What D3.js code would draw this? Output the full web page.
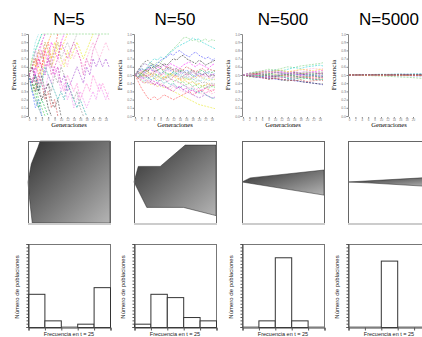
<!DOCTYPE html>
<html>
<head>
<meta charset="utf-8">
<script src="https://cdn.jsdelivr.net/npm/d3@7"></script>
<style>
  body { margin: 0; background: #fff; }
  svg { display: block; font-family: "Liberation Sans", Arial, sans-serif; }
</style>
</head>
<body>
<div id="chart"></div>
<script>
// Titles of the four panels (population size)
const titles = ["N=5", "N=50", "N=500", "N=5000"];

// Generations for the dense (N=5, N=50) and sparse (N=500, N=5000) series
const gens = d3.range(0, 26);
const sparseGens = [0, 2, 4, 6, 8, 10, 12, 14, 16, 18, 20, 22, 24, 25];

const lineColors = ["#66cc66", "#00cccc", "#3333ff", "#000000", "#ff00ff", "#ff3333", "#e6e600",
  "#ff99cc", "#33cc33", "#888888", "#009999", "#ff9900", "#9933cc", "#99ee66", "#ff66cc",
  "#cc00cc", "#3366ff", "#ffcc00", "#333333", "#cc3333", "#66dddd", "#aaaaaa", "#00aa44",
  "#ee77ee", "#dd33aa"];

// Allele frequency per generation, N=5 (series stop when fixed)
const freqN5 = [
  [.5,.7,.8,.9,1,1,1,1,1,1,1,1,1,1,1,1,1,1,1,1,1,1,1,1,1,1],
  [.5,.6,.8,.9,1],
  [.5,.3,.2,.1,0],
  [.5,.4,.5,.3,.2,.3,.1,0],
  [.5,.6,.5,.7,.6,.8,.7,.9,.8,.7,.9,1],
  [.5,.4,.6,.7,.6,.8,.9,.7,.8,1],
  [.5,.6,.7,.6,.5,.7,.8,.7,.9,.8,.7,.6,.8,.7,.8,.9,.8,.7,.8,.9,1],
  [.5,.6,.4,.5,.6,.5,.7,.6,.8,.7,.6,.7,.6,.8,.7,.8,.7,.6,.7,.8,.9,.8,.7,.8,.9,.8],
  [.5,.3,.4,.2,.1,0],
  [.5,.4,.3,.4,.2,.3,.4,.3,.5,.4,.6,.5,.4,.3,.2,.3,.1,0],
  [.5,.4,.5,.3,.4,.6,.5,.4,.3,.2,.3,.2,.4,.3,.2,.1,.2,.1,0],
  [.5,.6,.7,.5,.6,.8,.9,1],
  [.5,.6,.5,.4,.6,.5,.7,.6,.5,.6,.4,.5,.3,.4,.5,.6,.5,.4,.6,.5,.7,.6,.7,.6,.7,.6],
  [.5,.4,.2,.1,0],
  [.5,.6,.8,.7,.9,.8,.6,.7,.5,.6,.4,.3,.5,.4,.3,.4,.2,.3,.4,.3,.5,.4,.3,.4,.3,.2],
  [.5,.4,.6,.8,.9,1],
  [.5,.3,.1,.2,0],
  [.5,.7,.6,.8,.7,.9,.8,.6,.7,.9,.8,.9,1],
  [.5,.6,.4,.3,.5,.3,.4,.2,.1,.2,0],
  [.5,.4,.3,.5,.4,.2,.3,.1,.2,0],
  [.5,.7,.9,1],
  [.5,.6,.7,.8,.7,.9,.8,.6,.8,.9,.7,.8,.9,.8,.9,1],
  [.5,.4,.3,.1,.2,.1,0],
  [.5,.4,.6,.5,.4,.3,.5,.4,.6,.5,.3,.4,.2,.3,.1,.2,.3,.2,.1,.2,.3,.2,.4,.3,.2,.3],
  [.5,.6,.7,.6,.8,.6,.7,.5,.6,.7,.9,.8,.7,.8,.9,.8,.7,.5,.7,.6,.8,.9,1]
];

// Allele frequency per generation, N=50
const freqN50 = [
  [.50,.54,.58,.55,.60,.64,.62,.66,.65,.70,.74,.78,.82,.86,.90,.95,.96,.94,.92,.93,.90,.92,.94,.91,.93,.92],
  [.50,.55,.60,.64,.62,.66,.70,.68,.72,.70,.74,.78,.80,.84,.86,.88,.90,.92,.95,.93,.94,.90,.88,.86,.84,.82],
  [.50,.52,.48,.54,.58,.62,.60,.64,.68,.70,.72,.76,.74,.78,.80,.76,.74,.72,.76,.78,.74,.72,.70,.72,.68,.70],
  [.50,.46,.52,.56,.54,.60,.58,.62,.60,.64,.62,.66,.70,.68,.72,.74,.70,.68,.66,.64,.68,.66,.62,.64,.66,.68],
  [.50,.54,.56,.52,.58,.56,.54,.60,.58,.62,.60,.64,.62,.60,.58,.62,.64,.66,.62,.60,.64,.62,.60,.58,.62,.64],
  [.50,.42,.34,.28,.22,.20,.24,.20,.22,.26,.24,.22,.20,.22,.24,.26,.28,.30,.26,.28,.32,.30,.34,.32,.30,.33],
  [.50,.46,.44,.40,.42,.38,.40,.36,.38,.34,.36,.32,.30,.28,.26,.24,.22,.20,.18,.16,.14,.13,.12,.11,.10,.09],
  [.50,.48,.44,.46,.42,.40,.38,.36,.40,.38,.34,.32,.36,.34,.32,.30,.28,.30,.32,.28,.30,.26,.28,.30,.27,.29],
  [.50,.52,.48,.50,.46,.48,.52,.50,.46,.44,.48,.46,.42,.44,.40,.42,.38,.40,.36,.38,.34,.36,.38,.34,.36,.35],
  [.50,.48,.52,.50,.54,.52,.48,.50,.52,.48,.46,.50,.48,.52,.50,.46,.48,.44,.46,.42,.44,.40,.42,.38,.40,.39],
  [.50,.52,.50,.46,.48,.44,.46,.42,.44,.40,.42,.38,.40,.36,.34,.38,.36,.32,.34,.30,.28,.30,.26,.24,.22,.21],
  [.50,.54,.52,.56,.54,.50,.52,.48,.50,.46,.48,.52,.50,.48,.44,.46,.42,.40,.42,.38,.40,.36,.38,.40,.37,.38],
  [.50,.46,.48,.44,.40,.42,.38,.40,.36,.38,.34,.36,.38,.34,.36,.32,.30,.28,.26,.24,.22,.24,.26,.24,.22,.23],
  [.50,.54,.50,.52,.56,.58,.54,.56,.52,.54,.50,.48,.52,.50,.46,.48,.44,.46,.42,.40,.38,.36,.34,.36,.38,.36],
  [.50,.56,.60,.64,.62,.58,.56,.54,.50,.52,.48,.46,.44,.42,.40,.38,.36,.34,.36,.32,.34,.30,.28,.30,.32,.31],
  [.50,.48,.46,.50,.48,.44,.42,.40,.38,.36,.34,.32,.30,.34,.36,.32,.34,.30,.32,.28,.30,.32,.34,.36,.38,.37],
  [.50,.54,.58,.56,.60,.58,.54,.56,.52,.54,.58,.56,.52,.50,.54,.52,.56,.54,.50,.48,.52,.50,.54,.52,.50,.52],
  [.50,.46,.50,.48,.52,.50,.46,.44,.48,.46,.50,.52,.48,.46,.44,.42,.46,.44,.48,.46,.50,.48,.44,.46,.44,.45],
  [.50,.56,.62,.66,.68,.64,.62,.60,.64,.62,.58,.60,.56,.58,.54,.56,.52,.54,.56,.52,.54,.50,.52,.48,.50,.49],
  [.50,.52,.54,.50,.48,.52,.54,.56,.58,.56,.60,.58,.56,.54,.58,.56,.60,.58,.56,.54,.56,.58,.55,.57,.56,.55],
  [.50,.48,.44,.42,.46,.44,.48,.50,.46,.48,.52,.50,.54,.52,.48,.50,.46,.48,.44,.46,.42,.44,.46,.43,.45,.44],
  [.50,.52,.56,.54,.50,.52,.48,.46,.50,.54,.56,.58,.54,.56,.52,.50,.48,.52,.54,.50,.48,.46,.48,.50,.47,.48],
  [.50,.48,.52,.56,.58,.62,.60,.56,.58,.54,.52,.50,.54,.52,.56,.54,.50,.52,.48,.50,.54,.56,.52,.54,.53,.55],
  [.50,.52,.48,.46,.50,.48,.52,.54,.50,.52,.56,.54,.58,.56,.52,.54,.50,.48,.46,.50,.52,.48,.50,.47,.46,.48],
  [.50,.46,.42,.40,.44,.42,.38,.40,.44,.46,.42,.44,.48,.50,.46,.48,.52,.50,.54,.52,.48,.50,.52,.48,.51,.50]
];

// Allele frequency at sparseGens, N=500
const freqN500 = [
  [.50,.52,.54,.55,.57,.56,.58,.60,.59,.61,.62,.63,.64,.65],
  [.50,.51,.53,.52,.54,.56,.55,.57,.59,.58,.60,.61,.62,.61],
  [.50,.49,.47,.48,.46,.45,.44,.45,.43,.42,.41,.40,.39,.38],
  [.50,.48,.49,.47,.45,.46,.44,.43,.44,.42,.41,.40,.39,.39],
  [.50,.52,.51,.54,.55,.53,.54,.52,.53,.51,.52,.54,.55,.56],
  [.50,.49,.51,.50,.52,.51,.49,.50,.48,.49,.47,.48,.49,.48],
  [.50,.48,.47,.49,.48,.50,.49,.51,.50,.52,.51,.50,.52,.51],
  [.50,.51,.52,.50,.51,.53,.52,.54,.55,.56,.57,.58,.57,.58],
  [.50,.51,.49,.50,.48,.47,.48,.46,.47,.45,.46,.44,.45,.44],
  [.50,.52,.53,.55,.54,.56,.55,.53,.54,.52,.53,.51,.52,.53],
  [.50,.49,.50,.48,.47,.49,.48,.46,.45,.47,.46,.45,.44,.45],
  [.50,.51,.50,.52,.51,.49,.50,.48,.49,.47,.48,.46,.47,.46],
  [.50,.49,.48,.46,.47,.48,.50,.49,.51,.50,.52,.53,.51,.52],
  [.50,.51,.53,.52,.50,.51,.49,.50,.52,.51,.53,.52,.54,.53],
  [.50,.48,.49,.47,.48,.46,.47,.49,.48,.50,.49,.47,.48,.47],
  [.50,.52,.51,.53,.52,.54,.53,.51,.52,.50,.51,.49,.50,.49],
  [.50,.49,.47,.48,.50,.49,.51,.52,.50,.51,.49,.50,.48,.49],
  [.50,.51,.52,.54,.53,.55,.56,.54,.55,.57,.56,.55,.57,.56],
  [.50,.50,.52,.51,.49,.48,.50,.51,.53,.52,.50,.51,.52,.51],
  [.50,.49,.48,.47,.45,.46,.45,.44,.43,.44,.42,.43,.44,.43],
  [.50,.51,.49,.51,.52,.50,.48,.47,.49,.48,.50,.51,.49,.50],
  [.50,.52,.54,.53,.55,.54,.52,.53,.51,.53,.54,.52,.53,.54],
  [.50,.48,.50,.49,.51,.53,.52,.50,.49,.47,.48,.49,.47,.48],
  [.50,.51,.50,.52,.54,.53,.51,.52,.54,.53,.55,.54,.52,.53],
  [.50,.49,.51,.50,.48,.49,.47,.48,.46,.48,.47,.45,.46,.47]
];

// Allele frequency at sparseGens, N=5000
const freqN5000 = [
  [.500,.498,.495,.493,.490,.488,.484,.480,.476,.472,.468,.462,.455,.452],
  [.500,.503,.505,.504,.507,.509,.508,.511,.513,.512,.515,.517,.516,.518],
  [.500,.498,.497,.499,.496,.494,.495,.493,.491,.492,.490,.488,.489,.487],
  [.500,.502,.501,.503,.502,.504,.503,.505,.506,.504,.505,.507,.506,.508],
  [.500,.499,.501,.500,.498,.499,.497,.498,.496,.497,.495,.496,.494,.495],
  [.500,.501,.503,.502,.500,.501,.503,.504,.502,.503,.501,.502,.504,.503],
  [.500,.499,.497,.498,.500,.499,.497,.495,.496,.494,.493,.494,.492,.491],
  [.500,.502,.503,.505,.504,.506,.508,.507,.509,.510,.508,.509,.511,.510],
  [.500,.501,.499,.500,.502,.501,.499,.500,.498,.499,.497,.498,.499,.498],
  [.500,.498,.499,.497,.498,.496,.497,.499,.498,.500,.499,.497,.498,.496],
  [.500,.502,.501,.500,.502,.503,.501,.502,.500,.501,.503,.502,.500,.501],
  [.500,.499,.500,.502,.501,.503,.502,.500,.501,.499,.500,.498,.499,.500],
  [.500,.501,.502,.501,.503,.502,.504,.505,.503,.504,.502,.503,.501,.502],
  [.500,.499,.498,.496,.497,.495,.494,.496,.495,.493,.494,.492,.493,.494],
  [.500,.500,.502,.503,.501,.500,.502,.503,.505,.504,.502,.503,.504,.502],
  [.500,.501,.500,.499,.501,.500,.498,.497,.499,.498,.496,.497,.498,.497],
  [.500,.499,.501,.502,.500,.502,.501,.499,.500,.502,.501,.503,.502,.501],
  [.500,.501,.499,.498,.500,.499,.501,.500,.498,.497,.499,.498,.500,.499],
  [.500,.502,.504,.503,.505,.506,.504,.505,.507,.506,.504,.505,.503,.504],
  [.500,.499,.498,.500,.499,.497,.498,.496,.497,.495,.496,.494,.495,.493]
];

// Min/max envelope of the frequencies: [generation, frequency] vertices
const envUpper = [
  [[0,.5],[1,.72],[2,.82],[3,.92],[3.7,1],[25,1]],
  [[0,.5],[1.3,.69],[8,.69],[15.6,.95],[25,.95]],
  [[0,.5],[2.5,.55],[25,.646]],
  [[0,.5],[25,.556]]
];
const envLower = [
  [[0,.5],[.4,.32],[1.3,0],[25,0]],
  [[0,.5],[3.9,.19],[15.1,.19],[24,.1],[25,.09]],
  [[0,.5],[25,.34]],
  [[0,.5],[6,.49],[25,.445]]
];

// Histogram of frequency at t = 25 (5 bins of width 0.2)
const histEdges = [0, .2, .4, .6, .8, 1];
const histCounts = [
  [10, 2, 0, 1, 12],
  [1, 10, 9, 3, 2],
  [0, 2, 21, 2, 0],
  [0, 0, 20, 0, 0]
];

const freqData = [freqN5, freqN50, freqN500, freqN5000];
const freqGens = [gens, gens, sparseGens, sparseGens];

const width = 422, height = 337;
const panelLeft = [28, 134, 242, 348];
const pw = 82;

const svg = d3.select("#chart").append("svg")
  .attr("width", width)
  .attr("height", height);

// Gradient for the envelope polygons
const grad = svg.append("defs").append("linearGradient")
  .attr("id", "envGrad")
  .attr("x1", 0).attr("y1", 0).attr("x2", 1).attr("y2", 1);
grad.append("stop").attr("offset", "0%").attr("stop-color", "#303030");
grad.append("stop").attr("offset", "100%").attr("stop-color", "#b4b4b4");

titles.forEach((title, i) => {
  let x0 = panelLeft[i];

  svg.append("text")
    .attr("x", x0 + pw / 2)
    .attr("y", 25)
    .attr("text-anchor", "middle")
    .style("font-size", "17px")
    .text(title);

  // ---- row 1: frequency trajectories ----
  let x = d3.scaleLinear().domain([0, 25]).range([x0 + 1, x0 + pw - 1]);
  let y = d3.scaleLinear().domain([0, 1]).range([116, 34]);

  let line = d3.line()
    .x((d, j) => x(freqGens[i][j]))
    .y(d => y(d));

  svg.append("g")
    .attr("opacity", 0.85)
    .selectAll("path")
    .data(freqData[i])
    .enter().append("path")
    .attr("d", d => line(d))
    .attr("fill", "none")
    .attr("stroke", (d, j) => lineColors[j % lineColors.length])
    .attr("stroke-width", 0.6)
    .attr("stroke-dasharray", "2,1.2");

  let yAxis = svg.append("g")
    .attr("transform", "translate(" + x0 + ",0)")
    .call(d3.axisLeft(y).tickValues(d3.range(0, 1.01, 0.1)).tickSize(1.5).tickFormat(d3.format(".1f")));
  yAxis.select(".domain").attr("stroke", "#888");
  yAxis.selectAll(".tick line").attr("stroke", "#888");
  yAxis.selectAll("text").style("font-size", "3.5px").attr("fill", "#777").attr("x", -2);

  // only keep generation ticks that fit inside the window
  let genTicks = x.ticks(10).filter(t => x(t) < width - 4);
  let xAxis = svg.append("g")
    .attr("transform", "translate(0,117)")
    .call(d3.axisBottom(x).tickValues(genTicks).tickSize(1.5));
  xAxis.select(".domain").remove();
  xAxis.selectAll(".tick line").attr("stroke", "#888");
  xAxis.selectAll("text").style("font-size", "3px").attr("fill", "#777").attr("y", 2);

  svg.append("text")
    .attr("transform", "translate(" + (x0 - 12) + ",75) rotate(-90)")
    .attr("text-anchor", "middle")
    .style("font-family", "'Liberation Serif', serif")
    .style("font-size", "7px")
    .text("Frecuencia");

  svg.append("text")
    .attr("x", x0 + pw / 2)
    .attr("y", 127)
    .attr("text-anchor", "middle")
    .style("font-family", "'Liberation Serif', serif")
    .style("font-size", "6.5px")
    .text("Generaciones");

  // ---- row 2: envelope of frequencies ----
  let ex = d3.scaleLinear().domain([0, 25]).range([x0, x0 + pw]);
  let ey = d3.scaleLinear().domain([0, 1]).range([223, 141]);
  let env = envUpper[i].concat(envLower[i].slice().reverse());

  svg.append("path")
    .attr("d", d3.line().x(d => ex(d[0])).y(d => ey(d[1]))(env) + "Z")
    .attr("fill", "url(#envGrad)")
    .attr("stroke", "#222")
    .attr("stroke-width", 0.5);

  svg.append("rect")
    .attr("x", x0 + 0.5).attr("y", 141.5)
    .attr("width", pw).attr("height", 82)
    .attr("fill", "none")
    .attr("stroke", "#666");
  svg.append("line")
    .attr("x1", x0).attr("x2", x0 + pw + 1)
    .attr("y1", 224).attr("y2", 224)
    .attr("stroke", "#ccc").attr("stroke-width", 2);

  // ---- row 3: histogram at t = 25 ----
  let hx = d3.scaleLinear().domain([0, 1]).range([x0, x0 + pw]);
  let hy = d3.scaleLinear().domain([0, 25]).range([327, 244]);
  let bins = histCounts[i].map((c, j) => ({ x0: histEdges[j], x1: histEdges[j + 1], n: c }));

  svg.append("rect")
    .attr("x", x0 + 0.5).attr("y", 244.5)
    .attr("width", pw).attr("height", 82.5)
    .attr("fill", "none")
    .attr("stroke", "#777");

  svg.append("g")
    .selectAll("rect")
    .data(bins.filter(b => b.n > 0))
    .enter().append("rect")
    .attr("x", d => hx(d.x0) + 0.5)
    .attr("y", d => hy(d.n) + 0.5)
    .attr("width", d => hx(d.x1) - hx(d.x0))
    .attr("height", d => hy(0) - hy(d.n))
    .attr("fill", "#fff")
    .attr("stroke", "#333");

  let hyAxis = svg.append("g")
    .attr("transform", "translate(" + (x0 + 0.5) + ",0)")
    .call(d3.axisLeft(hy).tickValues(d3.range(0, 26)).tickSize(2).tickFormat(""));
  hyAxis.select(".domain").attr("stroke", "#444");
  hyAxis.selectAll(".tick line").attr("stroke", "#555");

  let hxAxis = svg.append("g")
    .attr("transform", "translate(0.5,327.5)")
    .call(d3.axisBottom(hx).tickValues(histEdges).tickSize(3).tickFormat(""));
  hxAxis.select(".domain").attr("stroke", "#444");
  hxAxis.selectAll(".tick line").attr("stroke", "#555");

  svg.append("text")
    .attr("transform", "translate(" + (x0 - 9) + ",287) rotate(-90)")
    .attr("text-anchor", "middle")
    .style("font-size", "6px")
    .attr("fill", "#222")
    .text("Número de poblaciones");

  svg.append("text")
    .attr("x", x0 + pw / 2)
    .attr("y", 335.5)
    .attr("text-anchor", "middle")
    .style("font-size", "5.5px")
    .attr("fill", "#222")
    .text("Frecuencia en t = 25");
});
</script>
</body>
</html>
